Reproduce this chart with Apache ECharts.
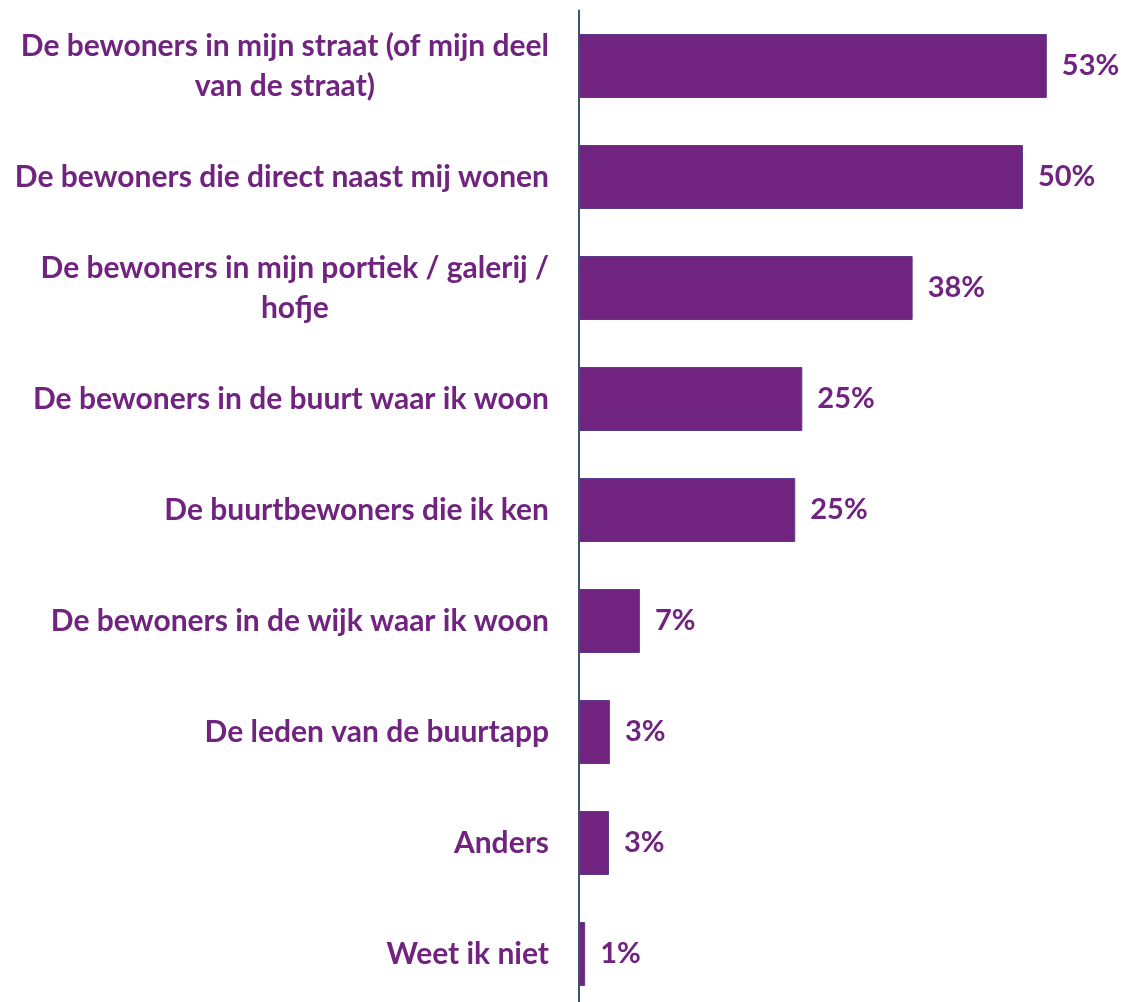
<!DOCTYPE html>
<html><head><meta charset="utf-8">
<script src="https://cdn.jsdelivr.net/npm/echarts@6/dist/echarts.min.js"></script>
<style>html,body{margin:0;padding:0;background:#fff;overflow:hidden}#c{width:1123px;height:1010px}</style>
</head><body><div id="c"></div>
<script>
const categories = [
  "De bewoners in mijn straat (of mijn deel\nvan de straat)",
  "De bewoners die direct naast mij wonen",
  "De bewoners in mijn portiek / galerij /\nhofje",
  "De bewoners in de buurt waar ik woon",
  "De buurtbewoners die ik ken",
  "De bewoners in de wijk waar ik woon",
  "De leden van de buurtapp",
  "Anders",
  "Weet ik niet"
];
const values = [53.0, 50.3, 37.8, 25.3, 24.5, 6.9, 3.5, 3.4, 0.7];
const valueLabels = ["53%", "50%", "38%", "25%", "25%", "7%", "3%", "3%", "1%"];

const purple = '#70237F';
const fontFam = 'Lato, "Open Sans", sans-serif';
const chart = echarts.init(document.getElementById('c'));
chart.setOption({
  animation: false,
  grid: { left: 579, top: 10.5, bottom: 0.5, right: 14.4 },
  xAxis: { type: 'value', min: 0, max: 60, show: false },
  yAxis: {
    type: 'category', inverse: true, data: categories,
    axisLine: { show: true, lineStyle: { color: '#3E5370', width: 2 } },
    axisTick: { show: false },
    axisLabel: {
      margin: 30, align: 'right',
      formatter: v => '{a|' + v.split('\n').join('}\n{a|') + '}',
      rich: { a: { align: 'center', color: purple, fontFamily: fontFam, fontWeight: 'bold', fontSize: 30, lineHeight: 40 } }
    }
  },
  series: [{
    type: 'bar', data: values, barWidth: 64,
    itemStyle: { color: purple, borderColor: '#5B3C8C', borderWidth: 1 },
    label: {
      show: true, position: 'right', distance: 15,
      formatter: p => valueLabels[p.dataIndex],
      color: purple, fontFamily: fontFam, fontWeight: 'bold', fontSize: 29
    }
  }]
});
</script></body></html>
